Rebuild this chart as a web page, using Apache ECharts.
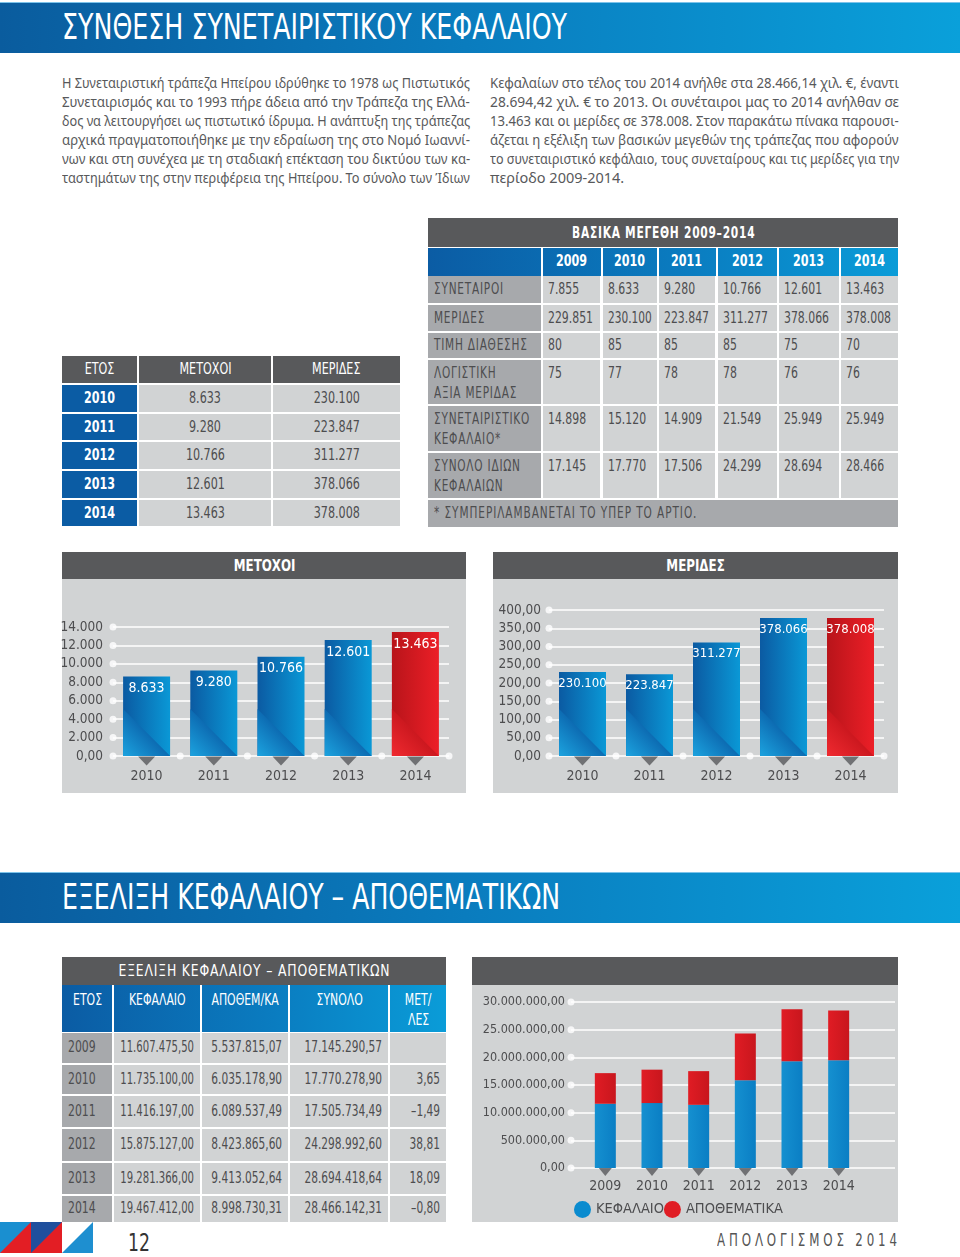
<!DOCTYPE html>
<html><head><meta charset="utf-8">
<script src="https://cdn.jsdelivr.net/npm/echarts/dist/echarts.min.js"></script>
<style>
html,body{margin:0;padding:0;background:#fff;}
#page{position:relative;width:960px;height:1257px;overflow:hidden;font-family:"DejaVu Sans Condensed","Liberation Sans",sans-serif;color:#4d4d4f;}
.cell{position:absolute;box-sizing:border-box;white-space:nowrap;overflow:visible;}
.cell span{position:absolute;white-space:nowrap;display:block;}
.band{position:absolute;left:0;width:960px;background:linear-gradient(90deg,#0a5c9e 0%,#0a7dbf 50%,#0aa0da 100%);border-top:1px solid #7cc3ea;box-sizing:border-box;}
#chart{position:absolute;left:0;top:0;width:960px;height:1257px;pointer-events:none;}
</style></head>
<body><div id="page"><div id="chart"></div></div>
<script>
// ---------------- DATA ----------------
const years = ['2009','2010','2011','2012','2013','2014'];
const members = [7855, 8633, 9280, 10766, 12601, 13463];           // ΣΥΝΕΤΑΙΡΟΙ
const shares = [229851, 230100, 223847, 311277, 378066, 378008];  // ΜΕΡΙΔΕΣ
const issuePrice = [80, 85, 85, 85, 75, 70];                      // ΤΙΜΗ ΔΙΑΘΕΣΗΣ
const bookValue = [75, 77, 78, 78, 76, 76];                       // ΛΟΓΙΣΤΙΚΗ ΑΞΙΑ ΜΕΡΙΔΑΣ
const coopCapital = [14898, 15120, 14909, 21549, 25949, 25949];   // ΣΥΝΕΤΑΙΡΙΣΤΙΚΟ ΚΕΦΑΛΑΙΟ
const totalEquity = [17145, 17770, 17506, 24299, 28694, 28466];   // ΣΥΝΟΛΟ ΙΔΙΩΝ ΚΕΦΑΛΑΙΩΝ
const capital = [11607475.50, 11735100.00, 11416197.00, 15875127.00, 19281366.00, 19467412.00];
const reserves = [5537815.07, 6035178.90, 6089537.49, 8423865.60, 9413052.64, 8998730.31];
const totals = [17145290.57, 17770278.90, 17505734.49, 24298992.60, 28694418.64, 28466142.31];
const changePct = [null, 3.65, -1.49, 38.81, 18.09, -0.80];

const membersTicks = ['0,00','2.000','4.000','6.000','8.000','10.000','12.000','14.000'];
const sharesTicks = ['0,00','50,00','100,00','150,00','200,00','250,00','300,00','350,00','400,00'];
const capitalTicks = ['0,00','500.000,00','10.000.000,00','15.000.000,00','20.000.000,00','25.000.000,00','30.000.000,00'];

const topRowLabels = [['ΣΥΝΕΤΑΙΡΟΙ'],['ΜΕΡΙΔΕΣ'],['ΤΙΜΗ ΔΙΑΘΕΣΗΣ'],['ΛΟΓΙΣΤΙΚΗ','ΑΞΙΑ ΜΕΡΙΔΑΣ'],['ΣΥΝΕΤΑΙΡΙΣΤΙΚΟ','ΚΕΦΑΛΑΙΟ*'],['ΣΥΝΟΛΟ ΙΔΙΩΝ','ΚΕΦΑΛΑΙΩΝ']];
const leftHeads = ['ΕΤΟΣ','ΜΕΤΟΧΟΙ','ΜΕΡΙΔΕΣ'];
const evoHeaders = [['ΕΤΟΣ'],['ΚΕΦΑΛΑΙΟ'],['ΑΠΟΘΕΜ/ΚΑ'],['ΣΥΝΟΛΟ'],['ΜΕΤ/','ΛΕΣ']];
const seriesNames = ['ΚΕΦΑΛΑΙΟ','ΑΠΟΘΕΜΑΤΙΚΑ'];

const paraLeft = [
 'Η Συνεταιριστική τράπεζα Ηπείρου ιδρύθηκε το 1978 ως Πιστωτικός',
 'Συνεταιρισμός και το 1993 πήρε άδεια από την Τράπεζα της Ελλά-',
 'δος να λειτουργήσει ως πιστωτικό ίδρυμα. Η ανάπτυξη της τράπεζας',
 'αρχικά πραγματοποιήθηκε με την εδραίωση της στο Νομό Ιωαννί-',
 'νων και στη συνέχεα με τη σταδιακή επέκταση του δικτύου των κα-',
 'ταστημάτων της στην περιφέρεια της Ηπείρου. Το σύνολο των Ίδιων'];
const paraRight = [
 'Κεφαλαίων στο τέλος του 2014 ανήλθε στα 28.466,14 χιλ. €, έναντι',
 '28.694,42 χιλ. €  το 2013. Οι συνέταιροι μας το 2014 ανήλθαν σε',
 '13.463 και οι μερίδες σε 378.008. Στον παρακάτω πίνακα παρουσι-',
 'άζεται η εξέλιξη των βασικών μεγεθών της τράπεζας που αφορούν',
 'το συνεταιριστικό κεφάλαιο, τους συνεταίρους και τις μερίδες για την',
 'περίοδο 2009-2014.'];

// ---------------- helpers ----------------
const FONT = '"DejaVu Sans Condensed","Liberation Sans",sans-serif';
const page = document.getElementById('page');
function fmtInt(v){ const neg = v<0; const s = Math.abs(Math.round(v)).toString().replace(/\B(?=(\d{3})+(?!\d))/g,'.'); return (neg?'–':'')+s; }
function fmtDec(v){ const neg=v<0; const p=Math.abs(v).toFixed(2).split('.'); return (neg?'–':'')+fmtInt(+p[0])+','+p[1]; }

function box(x,y,w,h,css){
  const d=document.createElement('div'); d.className='cell';
  d.style.cssText+=`left:${x}px;top:${y}px;width:${w}px;height:${h}px;`+(css||'');
  page.insertBefore(d, document.getElementById('chart'));
  return d;
}
// text cell with horizontally-condensed text
function tcell(x,y,w,h,o){
  o=o||{};
  const d=box(x,y,w,h,o.bg?`background:${o.bg};`:'');
  const lines=o.lines||[];
  const lh=o.lh||h, top=(o.top!==undefined)?o.top:0, pad=o.pad||0, align=o.align||'left';
  lines.forEach((t,i)=>{
    const s=document.createElement('span'); s.textContent=t;
    s.style.cssText=`font-size:${o.fs||15}px;line-height:${lh}px;top:${top+i*lh}px;color:${o.color||'#4d4d4f'};`+
      `font-weight:${o.bold?'bold':'normal'};letter-spacing:${o.ls||0}px;font-family:${o.ff||FONT};`;
    d.appendChild(s);
    const nw=s.offsetWidth;
    let sc=(o.fitW? o.fitW/nw : (o.sx||0.8));
    const avail=w-2*pad; if(nw*sc>avail) sc=avail/nw;
    if(align==='left'){ s.style.left=pad+'px'; s.style.transformOrigin='0 50%'; }
    else if(align==='center'){ s.style.left=((w-nw)/2)+'px'; s.style.transformOrigin='50% 50%'; }
    else { s.style.left=(w-pad-nw)+'px'; s.style.transformOrigin='100% 50%'; }
    s.style.transform=`scaleX(${sc})`;
  });
  return d;
}
function para(lines,x,y,w,lh,lastLeft){
  lines.forEach((t,i)=>{
    const d=box(x,y+i*lh,w,lh,`line-height:${lh}px;font-size:14.5px;color:#58595b;font-family:"Noto Sans",sans-serif;`);
    const s=document.createElement('span'); s.textContent=t; s.style.transformOrigin='0 50%'; s.style.left='0px';
    d.appendChild(s);
    const nw=s.offsetWidth;
    if(nw>w) s.style.transform=`scaleX(${w/nw})`;
    else if(!(lastLeft&&i===lines.length-1)){ const n=(t.match(/ /g)||[]).length; if(n) s.style.wordSpacing=((w-nw)/n)+'px'; }
  });
}

// ---------------- header bands ----------------
const DG='#58595b', MG='#a7a9ac', LG='#d1d3d4', BLUE='#0b5ca4';
const BLUEGRAD='linear-gradient(90deg,#0b5ca4 0%,#0a7cc0 55%,#0a9cd8 100%)';
box(0,2,960,51,'').className='band';
tcell(62,2,520,51,{lines:['ΣΥΝΘΕΣΗ ΣΥΝΕΤΑΙΡΙΣΤΙΚΟΥ ΚΕΦΑΛΑΙΟΥ'],fs:35,lh:50,color:'#fff',fitW:505,ff:'"DejaVu Sans Condensed",sans-serif',ls:0});
box(0,872,960,51,'').className='band';
tcell(62,872,520,51,{lines:['ΕΞΕΛΙΞΗ ΚΕΦΑΛΑΙΟΥ – ΑΠΟΘΕΜΑΤΙΚΩΝ'],fs:35,lh:50,color:'#fff',fitW:498,ff:'"DejaVu Sans Condensed",sans-serif'});

// ---------------- paragraphs ----------------
para(paraLeft,62,73,408,19,false);
para(paraRight,490,73,409,19,true);

// ---------------- top-right table ----------------
{
  const cols=[[428,540.5],[543,600],[602.5,656.5],[658.5,715],[717.5,776.5],[778.5,839],[841,898]];
  tcell(428,218,470,29,{bg:DG,lines:['ΒΑΣΙΚΑ ΜΕΓΕΘΗ 2009–2014'],align:'center',fs:16,bold:true,color:'#fff',fitW:183,ls:1});
  box(428,248,470,27.5,`background:${BLUEGRAD};`);
  cols.forEach((c,i)=>{ if(i>0) box(c[0]-2,248,2,27.5,'background:#fff;'); });
  years.forEach((y,i)=>{ const c=cols[i+1]; tcell(c[0],248,c[1]-c[0],27.5,{lines:[y],align:'center',fs:15.5,bold:true,color:'#fff',sx:0.8}); });
  const rows=[[276,303],[305,331],[333,358],[360,404],[406,451],[453,498]];
  const vals=[members.map(fmtInt),shares.map(fmtInt),issuePrice.map(String),bookValue.map(String),coopCapital.map(fmtInt),totalEquity.map(fmtInt)];
  rows.forEach((r,ri)=>{
    const h=r[1]-r[0]; const multi=topRowLabels[ri].length>1;
    const vo=multi?{lh:20,top:3}:{};
    tcell(cols[0][0],r[0],cols[0][1]-cols[0][0],h,Object.assign({bg:MG,lines:topRowLabels[ri],pad:6,fs:15,ls:1,sx:0.78},vo));
    vals[ri].forEach((v,ci)=>{ const c=cols[ci+1];
      tcell(c[0],r[0],c[1]-c[0],h,Object.assign({bg:LG,lines:[v],pad:5,fs:15.5,sx:0.78},vo)); });
  });
  tcell(428,500,470,27,{bg:MG,lines:['* ΣΥΜΠΕΡΙΛΑΜΒΑΝΕΤΑΙ ΤΟ ΥΠΕΡ ΤΟ ΑΡΤΙΟ.'],pad:6,fs:15,ls:1.2,sx:0.78});
}

// ---------------- left table ----------------
{
  const cols=[[62,136.5],[139,271],[273,400]];
  leftHeads.forEach((h,i)=>tcell(cols[i][0],356,cols[i][1]-cols[i][0],27,{bg:DG,lines:[h],align:'center',fs:15.5,color:'#fff',sx:0.8}));
  const rows=[[385,412],[414,440],[442,469],[471,498],[500,526]];
  rows.forEach((r,ri)=>{ const k=ri+1, h=r[1]-r[0];
    tcell(cols[0][0],r[0],cols[0][1]-cols[0][0],h,{bg:BLUE,lines:[years[k]],align:'center',fs:15.5,bold:true,color:'#fff',sx:0.8});
    tcell(cols[1][0],r[0],cols[1][1]-cols[1][0],h,{bg:LG,lines:[fmtInt(members[k])],align:'center',fs:15.5,sx:0.8});
    tcell(cols[2][0],r[0],cols[2][1]-cols[2][0],h,{bg:LG,lines:[fmtInt(shares[k])],align:'center',fs:15.5,sx:0.8});
  });
}

// ---------------- chart panels ----------------
box(62,552,404,241,`background:${LG};`);
tcell(62,552,404,27,{bg:DG,lines:['ΜΕΤΟΧΟΙ'],align:'center',fs:16.5,bold:true,color:'#fff',sx:0.8});
box(493,552,405,241,`background:${LG};`);
tcell(493,552,405,27,{bg:DG,lines:['ΜΕΡΙΔΕΣ'],align:'center',fs:16.5,bold:true,color:'#fff',sx:0.8});
box(472,957,426,265,`background:${LG};`);
box(472,957,426,28,`background:${DG};`);

// ---------------- bottom-left table ----------------
{
  const cols=[[62,112.3],[114.3,200],[202,288],[290,388.3],[390.3,446]];
  tcell(62,957,384,28,{bg:DG,lines:['ΕΞΕΛΙΞΗ ΚΕΦΑΛΑΙΟΥ – ΑΠΟΘΕΜΑΤΙΚΩΝ'],align:'center',fs:16,color:'#fff',fitW:272,ls:1});
  box(62,985,384,46.7,`background:${BLUEGRAD};`);
  cols.forEach((c,i)=>{ if(i>0) box(c[0]-2,985,2,46.7,'background:#fff;');
    tcell(c[0],985,c[1]-c[0],46.7,{lines:evoHeaders[i],align:'center',fs:15.5,lh:20,top:5,color:'#fff',sx:0.78}); });
  const rows=[[1033,1062.7],[1064.7,1094.3],[1096.3,1127.3],[1129.3,1160.7],[1162.7,1194.3],[1196.3,1222]];
  rows.forEach((r,ri)=>{ const h=r[1]-r[0];
    tcell(cols[0][0],r[0],cols[0][1]-cols[0][0],h,{bg:MG,lines:[years[ri]],pad:6,fs:15.5,sx:0.78});
    const v=[fmtDec(capital[ri]),fmtDec(reserves[ri]),fmtDec(totals[ri]),changePct[ri]==null?'':fmtDec(changePct[ri])];
    v.forEach((t,ci)=>{ const c=cols[ci+1];
      tcell(c[0],r[0],c[1]-c[0],h,{bg:LG,lines:[t],align:'right',pad:6,fs:15.5,sx:0.76}); });
  });
}

// ---------------- footer ----------------
box(0,1222,93,31,'').innerHTML='<svg width="93" height="31" viewBox="0 0 93 31"><rect x="0" y="0" width="31" height="31" fill="#1a8fd0"/><polygon points="0,31 31,0 31,31" fill="#e31e24"/><rect x="31" y="0" width="31" height="31" fill="#1f4f9d"/><polygon points="31,31 62,0 62,31" fill="#e31e24"/><polygon points="62,31 93,0 93,31" fill="#1e8fd0"/></svg>';
tcell(128,1229,40,28,{lines:['12'],fs:24,lh:28,color:'#333',sx:0.8});
tcell(717,1229,190,22,{lines:['ΑΠΟΛΟΓΙΣΜΟΣ 2014'],fs:17,lh:22,color:'#555',ls:5,fitW:184});

// ---------------- ECharts ----------------
const chart = echarts.init(document.getElementById('chart'), null, {renderer:'canvas'});
const LGr = echarts.graphic.LinearGradient;
const blueGrad = ()=>new LGr(0,0,1,0,[{offset:0,color:'#0b5aa2'},{offset:1,color:'#0a98d6'}]);
const redGrad = ()=>new LGr(0,0,1,0,[{offset:0,color:'#b8141a'},{offset:1,color:'#ec1f27'}]);
const blueGrad2 = ()=>new LGr(0,0,1,0,[{offset:0,color:'#1590d0'},{offset:1,color:'#0a7ec4'}]);
const redGrad2 = ()=>new LGr(0,0,1,0,[{offset:0,color:'#e01c24'},{offset:1,color:'#c8161d'}]);
const axisTxt = {color:'#4d4d4f', fontSize:13.5, fontFamily:FONT};
const catTxt = {color:'#4d4d4f', fontSize:14, fontFamily:FONT};
const tri = 'path://M0,0L10,0L5,6Z';
const years5 = years.slice(1);
const membersTickStep = 2000, sharesTickStep = 50, capitalTickStep = 5000000;

function dotData(nTicks, step, nCats){
  const d=[]; for(let i=0;i<nTicks;i++) d.push([0,i*step]);
  for(let k=1;k<=nCats;k++) d.push([k,0]);
  return d;
}
// lower-left diagonal highlight on each bar (drawn through the axis scales)
function shadeItem(isLastRed){
  return function(params, api){
    const v=api.value(1); const top=api.coord([api.value(0), v]); const base=api.coord([api.value(0), 0]);
    const bw=api.size([1,0])[0]*0.7;
    const x0=top[0]-bw/2, x1=top[0]+bw/2, yb=base[1];
    const hgt=Math.min(bw, yb-top[1]);
    const red = isLastRed && params.dataIndex===params.dataInsideLength-1;
    return {type:'polygon', shape:{points:[[x0,yb-hgt],[x1,yb],[x0,yb]]},
      style:{fill:new LGr(0,1,0.55,0.45,[{offset:0,color:red?'#f02a30':'#1ca3df'},{offset:1,color:red?'#c8161d':'#0b66ae'}])}, silent:true};
  };
}

const option = {
  animation:false,
  textStyle:{fontFamily:FONT},
  grid:[
    {left:113, top:627, width:336, height:129},
    {left:549, top:610, width:335, height:146},
    {left:582, top:1002, width:280, height:166},
    {left:571, top:1002, width:324, height:166}
  ],
  xAxis:[
    {type:'category', gridIndex:0, data:years5, axisLine:{show:false}, axisTick:{show:false}, axisLabel:{...catTxt, margin:13}},
    {type:'value', gridIndex:0, min:0, max:5, show:false},
    {type:'category', gridIndex:1, data:years5, axisLine:{show:false}, axisTick:{show:false}, axisLabel:{...catTxt, margin:13}},
    {type:'value', gridIndex:1, min:0, max:5, show:false},
    {type:'category', gridIndex:2, data:years, axisLine:{show:false}, axisTick:{show:false}, axisLabel:{...catTxt, margin:11}},
    {type:'value', gridIndex:3, min:0, max:1, show:false}
  ],
  yAxis:[
    {type:'value', gridIndex:0, min:0, max:14000, interval:membersTickStep, axisLine:{show:false}, axisTick:{show:false},
     splitLine:{lineStyle:{color:'#fff', width:1.5}}, axisLabel:{...axisTxt, margin:10, formatter:v=>membersTicks[Math.round(v/membersTickStep)]}},
    {type:'value', gridIndex:1, min:0, max:400, interval:sharesTickStep, axisLine:{show:false}, axisTick:{show:false},
     splitLine:{lineStyle:{color:'#fff', width:1.5}}, axisLabel:{...axisTxt, margin:8, formatter:v=>sharesTicks[Math.round(v/sharesTickStep)]}},
    {type:'value', gridIndex:2, min:0, max:30000000, interval:capitalTickStep, axisLine:{show:false}, axisTick:{show:false},
     splitLine:{show:false}, axisLabel:{...axisTxt, fontSize:12.5, margin:17, formatter:v=>capitalTicks[Math.round(v/capitalTickStep)]}},
    {type:'value', gridIndex:3, min:0, max:30000000, interval:capitalTickStep, axisLine:{show:false}, axisTick:{show:false},
     splitLine:{lineStyle:{color:'#fff', width:1.5}}, axisLabel:{show:false}}
  ],
  legend:{
    left:569, top:1196, icon:'circle', itemWidth:17, itemHeight:17, itemGap:0,
    textStyle:{color:'#4d4d4f', fontSize:14.5, fontFamily:FONT},
    data:[{name:seriesNames[0], itemStyle:{color:'#0a8bcf'}},{name:seriesNames[1], itemStyle:{color:'#e01e25'}}]
  },
  series:[
    {type:'bar', xAxisIndex:0, yAxisIndex:0, barWidth:47, z:3,
     data: members.slice(1).map((v,i,a)=>({value:v, itemStyle:{color: i===a.length-1?redGrad():blueGrad()}})),
     label:{show:true, position:'insideTop', distance:5, color:'#fff', fontSize:14, fontFamily:FONT, formatter:p=>fmtInt(p.value)}},
    {type:'custom', xAxisIndex:0, yAxisIndex:0, z:4, silent:true, renderItem:shadeItem(true),
     data: members.slice(1).map((v,i)=>[i,v])},
    {type:'scatter', xAxisIndex:0, yAxisIndex:0, symbol:tri, symbolSize:[17,9], symbolOffset:[0,5], silent:true, z:2,
     itemStyle:{color:'#58595b'}, data: years5.map(()=>0)},
    {type:'scatter', xAxisIndex:1, yAxisIndex:0, symbolSize:7, silent:true, z:2, itemStyle:{color:'#fff'},
     data: dotData(membersTicks.length, membersTickStep, years5.length)},

    {type:'bar', xAxisIndex:2, yAxisIndex:1, barWidth:47, z:3,
     data: shares.slice(1).map((v,i,a)=>({value:v/1000, itemStyle:{color: i===a.length-1?redGrad():blueGrad()}})),
     label:{show:true, position:'insideTop', distance:5, color:'#fff', fontSize:13, fontFamily:FONT, formatter:p=>fmtInt(shares[p.dataIndex+1])}},
    {type:'custom', xAxisIndex:2, yAxisIndex:1, z:4, silent:true, renderItem:shadeItem(true),
     data: shares.slice(1).map((v,i)=>[i,v/1000])},
    {type:'scatter', xAxisIndex:2, yAxisIndex:1, symbol:tri, symbolSize:[17,9], symbolOffset:[0,5], silent:true, z:2,
     itemStyle:{color:'#58595b'}, data: years5.map(()=>0)},
    {type:'scatter', xAxisIndex:3, yAxisIndex:1, symbolSize:7, silent:true, z:2, itemStyle:{color:'#fff'},
     data: dotData(sharesTicks.length, sharesTickStep, years5.length)},

    {name:seriesNames[0], type:'bar', stack:'k', xAxisIndex:4, yAxisIndex:2, barWidth:21, z:3,
     itemStyle:{color:blueGrad2()}, data:capital},
    {name:seriesNames[1], type:'bar', stack:'k', xAxisIndex:4, yAxisIndex:2, barWidth:21, z:3,
     itemStyle:{color:redGrad2()}, data:reserves},
    {type:'scatter', xAxisIndex:4, yAxisIndex:2, symbol:tri, symbolSize:[13,8], symbolOffset:[0,4], silent:true, z:2,
     itemStyle:{color:'#58595b'}, data: years.map(()=>0)},
    {type:'scatter', xAxisIndex:5, yAxisIndex:3, symbolSize:7, silent:true, z:2, itemStyle:{color:'#fff'},
     data: dotData(capitalTicks.length, capitalTickStep, 0)}
  ]
};
chart.setOption(option);
</script></body></html>
